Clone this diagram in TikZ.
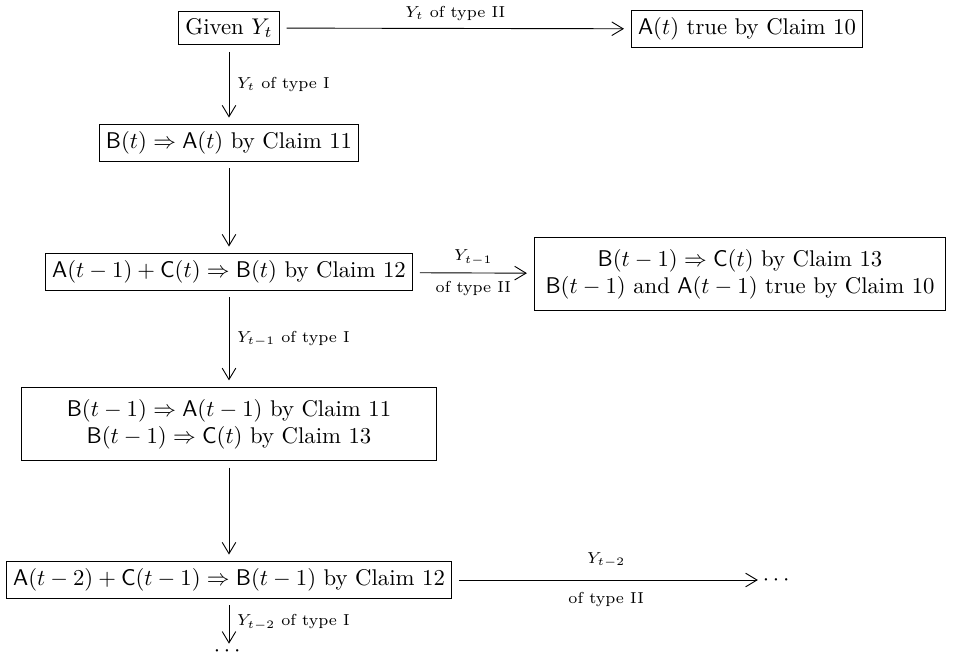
\documentclass[tikz,border=0pt]{standalone}
\usepackage{amsmath}
\usetikzlibrary{arrows.meta, positioning}

\begin{document}
\begin{tikzpicture}[>={Straight Barb[length=5pt, width=6pt]}, x=0.44pt, y=-0.44pt,
    claim/.style={draw, inner sep=3pt, align=center},
    lbl/.style={font=\scriptsize},
    step arrow/.style={->, shorten <=3pt, shorten >=3pt}]
  \useasboundingbox (0,0) rectangle (961,658);

  % Top row
  \node[claim] (given) at (229,28) {Given $Y_t$};
  \node[claim] (trueA) at (747,29) {$\mathsf{A}(t)$ true by Claim 10};
  \draw[step arrow] (given) -- (trueA) node[midway, above, lbl] {$Y_t$ of type II};

  % Type I at t
  \node[claim] (implA) at (229,143) {$\mathsf{B}(t) \Rightarrow \mathsf{A}(t)$ by Claim 11};
  \draw[step arrow] (given) -- (implA) node[midway, right, lbl] {$Y_t$ of type I};

  % Claim 12 at t
  \node[claim] (implB) at (229,272) {$\mathsf{A}(t-1) + \mathsf{C}(t) \Rightarrow \mathsf{B}(t)$ by Claim 12};
  \draw[step arrow] (implA) -- (implB);

  \node[claim, inner sep=5pt] (typeII) at (740,274) {$\mathsf{B}(t-1) \Rightarrow \mathsf{C}(t)$ by Claim 13\\
    $\mathsf{B}(t-1)$ and $\mathsf{A}(t-1)$ true by Claim 10};
  \draw[step arrow] (implB) -- (typeII)
    node[midway, above, lbl] {$Y_{t-1}$}
    node[midway, below, lbl] {of type II};

  % Type I at t-1
  \node[claim, inner ysep=5pt, inner xsep=20pt] (implC) at (229,424) {$\mathsf{B}(t-1) \Rightarrow \mathsf{A}(t-1)$ by Claim 11\\
    $\mathsf{B}(t-1) \Rightarrow \mathsf{C}(t)$ by Claim 13};
  \draw[step arrow] (implB) -- (implC) node[midway, right, lbl] {$Y_{t-1}$ of type I};

  % Claim 12 at t-1
  \node[claim] (implD) at (229,580) {$\mathsf{A}(t-2) + \mathsf{C}(t-1) \Rightarrow \mathsf{B}(t-1)$ by Claim 12};
  \draw[step arrow] (implC) -- (implD);

  \node[inner sep=1pt] (dotsR) at (778,580) {$\cdots$};
  \draw[step arrow, shorten >=1pt] (implD) -- (dotsR)
    node[midway, above=2pt, lbl] {$Y_{t-2}$}
    node[midway, below=2pt, lbl] {of type II};

  \node[inner sep=0pt, anchor=north] (dotsD) at (229,646) {$\cdots$};
  \draw[step arrow, shorten >=1pt] (implD) -- (dotsD.north) node[midway, right, lbl] {$Y_{t-2}$ of type I};
\end{tikzpicture}
\end{document}
